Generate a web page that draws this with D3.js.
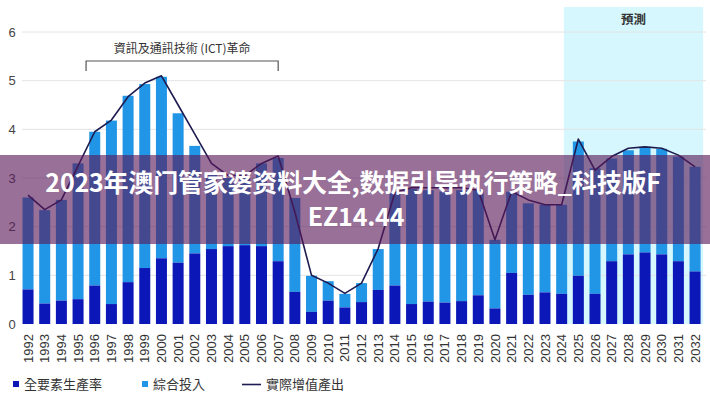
<!DOCTYPE html>
<html><head><meta charset="utf-8">
<script src="https://cdn.jsdelivr.net/npm/d3@7"></script>
<style>
html,body{margin:0;padding:0;background:#fff;}
svg{display:block;font-family:"Noto Sans CJK TC","Noto Sans",sans-serif;}
</style></head>
<body><svg id="c" width="710" height="400"></svg>
<script>
const years = d3.range(1992, 2033).map(String);
const tfp = [0.71,0.42,0.48,0.51,0.79,0.41,0.86,1.15,1.35,1.26,1.45,1.54,1.60,1.62,1.60,1.29,0.66,0.25,0.48,0.34,0.45,0.70,0.79,0.41,0.46,0.44,0.47,0.59,0.32,1.05,0.60,0.65,0.62,0.99,0.62,1.29,1.43,1.47,1.43,1.29,1.08];
const inputs = [1.89,1.92,2.07,2.79,3.16,3.77,3.83,3.78,3.73,3.07,2.21,1.56,1.40,1.38,1.70,2.12,1.93,0.74,0.40,0.28,0.39,0.84,1.91,2.37,2.29,2.28,2.28,2.16,1.41,1.67,1.88,1.80,1.83,2.76,2.58,2.11,2.14,2.17,2.17,2.15,2.15];
const output = [2.65,2.35,2.55,3.25,3.95,4.19,4.67,4.95,5.10,4.50,3.90,3.30,3.05,3.05,3.30,3.45,2.30,1.00,0.84,0.63,0.84,1.55,2.70,2.80,2.80,2.80,2.80,2.75,1.73,2.72,2.55,2.45,2.45,3.80,3.16,3.44,3.61,3.64,3.61,3.47,3.23];
const yTicks = [0,1,2,3,4,5,6];
const seriesNames = ["全要素生產率","綜合投入","實際增值產出"];
const forecastYears = ["2025","2032"];
const ictYears = ["1995","2007"];
const ictLabel = "資訊及通訊技術 (ICT)革命";
const forecastLabel = "預測";
const titleLines = ["2023年澳门管家婆资料大全,数据引导执行策略_科技版F","EZ14.44"];

const C_DARK = "#0b17b6", C_LIGHT = "#2296e6", C_LINE = "#1e1b50";
const svg = d3.select("#c");
const x = d3.scaleBand().domain(years).range([19.7, 703.4]).paddingInner(0.34).paddingOuter(0.17);
const y = d3.scaleLinear().domain([0, 6]).range([324, 32]);

// forecast shading
const fx0 = x(forecastYears[0]) - 9, fx1 = x(forecastYears[1]) + x.bandwidth() + 2.5;
svg.append("rect").attr("x", fx0).attr("y", 7).attr("width", fx1 - fx0).attr("height", y(0) - 7).attr("fill", "#d5f7fd");
svg.append("text").attr("x", (fx0 + fx1) / 2).attr("y", 24).attr("text-anchor", "middle")
  .attr("font-size", 12.5).attr("font-weight", 700).attr("fill", "#333").text(forecastLabel);

// grid
svg.append("g").selectAll("line").data(yTicks.filter(d => d > 0)).join("line")
  .attr("x1", 22).attr("x2", 706).attr("y1", d => y(d)).attr("y2", d => y(d))
  .attr("stroke", "#e4e4e4").attr("stroke-width", 1);

// y axis labels
const yAxis = d3.axisLeft(y).tickValues(yTicks).tickFormat(d3.format("d")).tickSize(0).tickPadding(0);
const gy = svg.append("g").attr("transform", "translate(16,0)").call(yAxis);
gy.select(".domain").remove();
gy.selectAll("text").attr("font-size", 13).attr("fill", "#444").attr("text-anchor", "middle").attr("x", -4)
  .attr("font-family", "Liberation Sans, Arial, sans-serif");

// bars
const gb = svg.append("g");
years.forEach((yr, i) => {
  gb.append("rect").attr("x", x(yr)).attr("width", x.bandwidth())
    .attr("y", y(tfp[i] + inputs[i])).attr("height", y(tfp[i]) - y(tfp[i] + inputs[i])).attr("fill", C_LIGHT);
  gb.append("rect").attr("x", x(yr)).attr("width", x.bandwidth())
    .attr("y", y(tfp[i])).attr("height", y(0) - y(tfp[i])).attr("fill", C_DARK);
});

// line
const line = d3.line().x((d, i) => x(years[i]) + x.bandwidth() / 2).y(d => y(d));
svg.append("path").datum(output).attr("d", line).attr("fill", "none").attr("stroke", C_LINE).attr("stroke-width", 1.6).attr("stroke-linejoin", "round");

// x axis labels
const xAxis = d3.axisBottom(x).tickSize(0).tickPadding(0);
const gx = svg.append("g").attr("transform", `translate(0,${y(0)})`).call(xAxis);
gx.select(".domain").remove();
gx.selectAll("text").attr("transform", "rotate(-90)").attr("text-anchor", "end")
  .attr("x", -10).attr("y", 0).attr("dy", "0.35em").attr("font-size", 13).attr("fill", "#333")
  .attr("font-family", "Liberation Sans, Arial, sans-serif");

// ICT bracket
const bx0 = x(ictYears[0]) + x.bandwidth() / 2 + 8, bx1 = x(ictYears[1]) + x.bandwidth() / 2;
svg.append("path").attr("d", `M${bx0},71V61H${bx1}V71`).attr("fill", "none").attr("stroke", "#555").attr("stroke-width", 1.2);
svg.append("text").attr("x", (bx0 + bx1) / 2).attr("y", 53).attr("text-anchor", "middle")
  .attr("font-size", 12).attr("fill", "#333").text(ictLabel);

// legend
const lg = svg.append("g");
lg.append("rect").attr("x", 13).attr("y", 381).attr("width", 6).attr("height", 6).attr("fill", C_DARK);
lg.append("text").attr("x", 24).attr("y", 389).attr("font-size", 13).attr("fill", "#333").text(seriesNames[0]);
lg.append("rect").attr("x", 142).attr("y", 381).attr("width", 6).attr("height", 6).attr("fill", C_LIGHT);
lg.append("text").attr("x", 153).attr("y", 389).attr("font-size", 13).attr("fill", "#333").text(seriesNames[1]);
lg.append("line").attr("x1", 242).attr("x2", 261).attr("y1", 384.5).attr("y2", 384.5).attr("stroke", C_LINE).attr("stroke-width", 1.6);
lg.append("text").attr("x", 266).attr("y", 389).attr("font-size", 13).attr("fill", "#333").text(seriesNames[2]);

// title banner
svg.append("rect").attr("x", 0).attr("y", 155).attr("width", 710).attr("height", 89).attr("fill", "rgb(89,24,89)").attr("fill-opacity", 0.62);
svg.append("g").selectAll("text").data(titleLines).join("text")
  .attr("x", (d, i) => i === 0 ? 353 : 356).attr("y", (d, i) => 192 + i * 34).attr("text-anchor", "middle")
  .attr("font-family", "Noto Sans CJK SC, sans-serif").attr("font-weight", 700).attr("font-size", 25)
  .attr("letter-spacing", -0.2).attr("fill", "#fff").text(d => d);
</script></body></html>
